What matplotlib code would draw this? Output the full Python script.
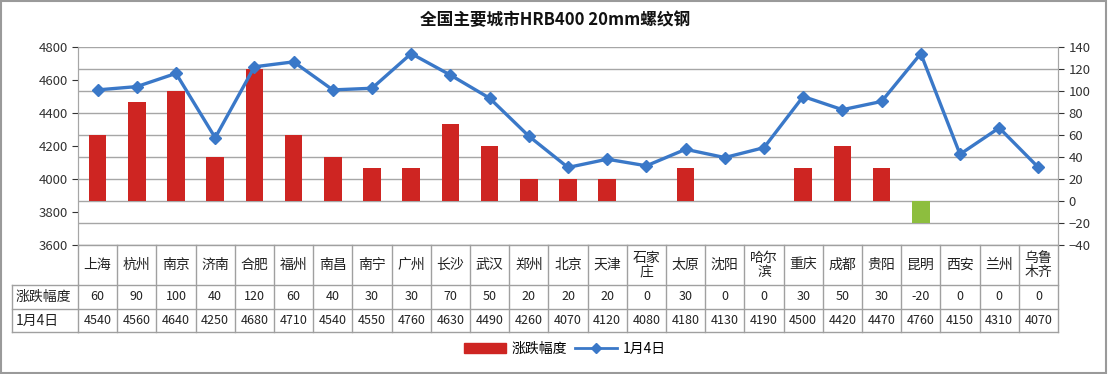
import numpy as np
import matplotlib
matplotlib.use('Agg')
import matplotlib.pyplot as plt
import matplotlib.patches as mpatches
from matplotlib.lines import Line2D
from matplotlib.transforms import blended_transform_factory

plt.rcParams['font.family'] = ['Noto Sans CJK SC', 'DejaVu Sans']

# data
cities = ['上海', '杭州', '南京', '济南', '合肥', '福州', '南昌', '南宁', '广州', '长沙',
          '武汉', '郑州', '北京', '天津', '石家\n庄', '太原', '沈阳', '哈尔\n滨', '重庆',
          '成都', '贵阳', '昆明', '西安', '兰州', '乌鲁\n木齐']
change = [60, 90, 100, 40, 120, 60, 40, 30, 30, 70, 50, 20, 20, 20, 0, 30, 0, 0, 30,
          50, 30, -20, 0, 0, 0]
price = [4540, 4560, 4640, 4250, 4680, 4710, 4540, 4550, 4760, 4630, 4490, 4260, 4070,
         4120, 4080, 4180, 4130, 4190, 4500, 4420, 4470, 4760, 4150, 4310, 4070]
row_names = ['涨跌幅度', '1月4日']
title = '全国主要城市HRB400 20mm螺纹钢'

W, H = 1108, 374
fig = plt.figure(figsize=(W / 100, H / 100), dpi=100)

def fx(px):
    return px / W

def fy(py):
    return 1 - py / H

left, right, top, bottom = 78, 1058, 47, 245
ax = fig.add_axes([fx(left), fy(bottom), fx(right - left), fy(top) - fy(bottom)])
ax2 = ax.twinx()

x = np.arange(len(cities))
grid_c = '#A6A6A6'

# bars on the right axis
bar_colors = ['#CE2522' if v >= 0 else '#8DBE3E' for v in change]
ax2.bar(x, change, width=0.45, color=bar_colors, zorder=2)
ax2.set_ylim(-40, 140)
ax2.set_yticks(np.arange(-40, 141, 20))
ax2.tick_params(axis='y', labelsize=9.5, colors='#333333', length=4, width=0.8)
ax2.yaxis.grid(True, color=grid_c, linewidth=1)
ax2.set_axisbelow(True)

# line on the left axis, drawn above the bars
ax.set_zorder(ax2.get_zorder() + 1)
ax.patch.set_visible(False)
ax.plot(x, price, color='#3A78C8', linewidth=2.4, marker='D', markersize=6,
        markerfacecolor='#3A78C8', markeredgecolor='#3A78C8', zorder=3)
ax.set_ylim(3600, 4800)
ax.set_yticks(np.arange(3600, 4801, 200))
ax.tick_params(axis='y', labelsize=9.5, colors='#333333', length=4, width=0.8)
ax.set_xlim(-0.5, len(cities) - 0.5)
ax.set_xticks([])

for a in (ax, ax2):
    for s in ('top', 'bottom'):
        a.spines[s].set_visible(False)
    a.spines['left'].set_color(grid_c)
    a.spines['right'].set_color(grid_c)

# data table under the plot
tr = blended_transform_factory(ax.transData, fig.transFigure)
line_c = '#A0A0A0'
rows_y = [245, 285, 309, 332]
edges = np.arange(len(cities) + 1) - 0.5
for i, yy in enumerate(rows_y):
    ax.plot([edges[0], edges[-1]], [fy(yy), fy(yy)], transform=tr, color=line_c,
            linewidth=1, clip_on=False)
    if i > 0:
        fig.add_artist(Line2D([fx(12), fx(left)], [fy(yy), fy(yy)], color=line_c, linewidth=1))
for e in edges:
    ax.plot([e, e], [fy(245), fy(332)], transform=tr, color=line_c, linewidth=1, clip_on=False)
fig.add_artist(Line2D([fx(12), fx(12)], [fy(285), fy(332)], color=line_c, linewidth=1))

for i in range(len(cities)):
    ax.text(x[i], fy(265), cities[i], transform=tr, ha='center', va='center',
            fontsize=10, linespacing=1.0, color='#222222')
    ax.text(x[i], fy(297), str(change[i]), transform=tr, ha='center', va='center',
            fontsize=9, color='#222222')
    ax.text(x[i], fy(320.5), str(price[i]), transform=tr, ha='center', va='center',
            fontsize=9, color='#222222')
fig.text(fx(16), fy(297), row_names[0], ha='left', va='center', fontsize=10, color='#222222')
fig.text(fx(16), fy(320.5), row_names[1], ha='left', va='center', fontsize=10, color='#222222')

fig.text(fx(555), fy(20), title, ha='center', va='center', fontsize=12, fontweight='bold',
         color='#111111')

handles = [mpatches.Patch(color='#CE2522', label=row_names[0]),
           Line2D([], [], color='#3A78C8', linewidth=2, marker='D', markersize=5,
                  label=row_names[1])]
fig.legend(handles=handles, loc='center', bbox_to_anchor=(fx(565), fy(349)), ncol=2,
           frameon=False, fontsize=10, handlelength=3, columnspacing=0.6, handletextpad=0.4)

fig.add_artist(mpatches.Rectangle((0.001, 0.003), 0.997, 0.994, fill=False,
                                  edgecolor='#9A9A9A', linewidth=1.5,
                                  transform=fig.transFigure))

fig.savefig('out.png', dpi=100)
